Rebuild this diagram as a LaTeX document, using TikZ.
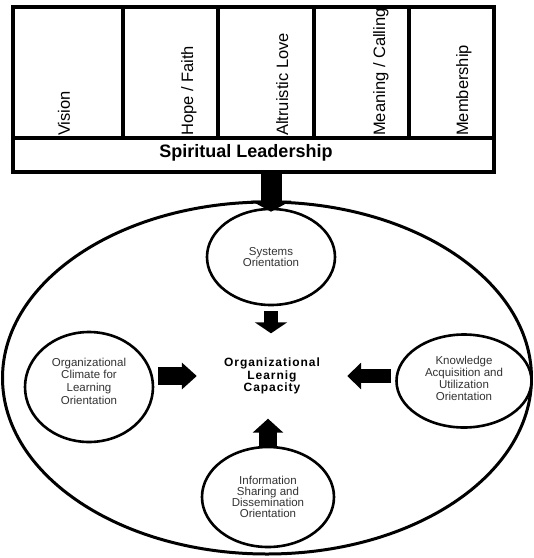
\documentclass[tikz,border=0pt]{standalone}
\usepackage{fontspec}
\setmainfont{Liberation Sans}
\newfontfamily\capfont[LetterSpace=8]{Liberation Sans}
\usetikzlibrary{arrows.meta,shapes.geometric}
\tikzset{
  colbox/.style={draw, line width=3.5pt, rectangle, inner sep=0pt},
  vlabel/.style={rotate=90, anchor=base west, inner sep=0pt, font=\fontsize{16.5}{18}\selectfont},
  orb/.style={draw, ellipse, line width=2.6pt, fill=white, inner sep=0pt},
  orbtext/.style={align=center, inner sep=0pt, text=black!80, font=\fontsize{11.5}{12}\selectfont},
  fat/.style n args={3}{line width=#1, -{Triangle[width=#2, length=#3]}},
}
\begin{document}
\begin{tikzpicture}[x=1pt, y=-1pt]
\useasboundingbox (0,0) rectangle (534,558);

% outer field holding the learning orientations
\node[draw, ellipse, line width=3pt, minimum width=529pt, minimum height=352pt, inner sep=0pt] (field) at (267,378) {};

% spiritual leadership columns
\node[colbox, minimum width=110pt, minimum height=131pt] (c1) at (68,72.5) {};
\node[colbox, minimum width=95pt,  minimum height=131pt] (c2) at (170.5,72.5) {};
\node[colbox, minimum width=96pt,  minimum height=131pt] (c3) at (266,72.5) {};
\node[colbox, minimum width=95pt,  minimum height=131pt] (c4) at (361.5,72.5) {};
\node[colbox, minimum width=85pt,  minimum height=131pt] (c5) at (451.5,72.5) {};
\node[colbox, minimum width=481pt, minimum height=34pt] (strip) at (253.5,155) {};

\node[vlabel] (t1) at (70,136) {Vision};
\node[vlabel] (t2) at (193,136) {Hope / Faith};
\node[vlabel] (t3) at (288,136) {Altruistic Love};
\node[vlabel] (t4) at (385,136) {Meaning / Calling};
\node[vlabel] (t5) at (468,136) {Membership};
\node[anchor=base, inner sep=0pt, font=\fontsize{18}{20}\selectfont\bfseries] (sl) at (246,157) {Spiritual Leadership};

% the four orientations
\node[orb, minimum width=128pt, minimum height=96pt] (sys) at (271,257) {};
\node[orbtext, font=\fontsize{11.5}{11}\selectfont] (systxt) at (271,257) {Systems\\Orientation};

\node[orb, minimum width=128pt, minimum height=110pt] (lc) at (89,387) {};
\node[orbtext, font=\fontsize{11.5}{12.7}\selectfont] (lctxt) at (89,381) {Organizational\\Climate for\\Learning\\Orientation};

\node[orb, minimum width=135pt, minimum height=93pt] (rc) at (464,381) {};
\node[orbtext] (rctxt) at (464,378) {Knowledge\\Acquisition and\\Utilization\\Orientation};

\node[orb, minimum width=132pt, minimum height=100pt] (bot) at (268,497) {};
\node[orbtext, font=\fontsize{11.5}{10.5}\selectfont] (bottxt) at (268,497) {Information\\Sharing and\\Dissemination\\Orientation};

% central capacity
\node[align=center, inner sep=0pt, minimum width=150pt, minimum height=85pt,
      font=\capfont\fontsize{12}{12.5}\selectfont\bfseries] (olc) at (272,376)
      {Organizational\\Learnig\\Capacity};

% arrows
\draw[fat={21pt}{40pt}{11pt}] (sys.north |- strip.south) -- ([yshift=-4pt]sys.north);
\draw[fat={14pt}{32pt}{11pt}, shorten <=5pt] (sys.south) -- (sys.south |- olc.north);
\draw[fat={18pt}{30pt}{14pt}] (bot.north) -- (bot.north |- olc.south);
\draw[fat={18pt}{26pt}{15pt}, shorten <=4pt] (lc.east |- olc.west) -- (olc.west);
\draw[fat={14pt}{26pt}{14pt}, shorten <=4pt] (rc.west |- olc.east) -- (olc.east);
\end{tikzpicture}
\end{document}
